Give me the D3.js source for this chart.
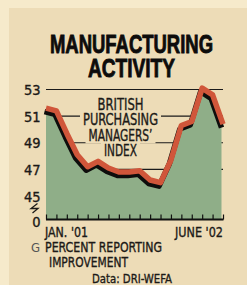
<!DOCTYPE html>
<html>
<head>
<meta charset="utf-8">
<script src="https://cdn.jsdelivr.net/npm/d3@7"></script>
<style>
  html, body { margin: 0; padding: 0; background: #f6eacb; }
  svg { display: block; }
  text { font-family: "Liberation Sans Narrow", "DejaVu Sans Condensed", "Liberation Sans", sans-serif; fill: #1c1a17; }
  .ink { stroke: #1c1a17; stroke-width: 0.35; }
</style>
</head>
<body>
<div id="chart"></div>
<script>
// monthly, Jan 2001 .. June 2002
var months = ["Jan01","Feb01","Mar01","Apr01","May01","Jun01","Jul01","Aug01","Sep01","Oct01","Nov01","Dec01",
              "Jan02","Feb02","Mar02","Apr02","May02","Jun02"];
var pmi = [51.6, 51.4, 49.7, 48.1, 47.2, 47.6, 47.1, 46.8, 46.8, 46.9, 46.2, 46.0,
           47.7, 50.3, 50.6, 53.1, 52.6, 50.4];
var yTicks = [45, 47, 49, 51, 53];
var gridVals = [47, 49, 51, 53];
var xLabels = [{i: 0, text: "JAN. '01"}, {i: 17, text: "JUNE '02"}];
var seriesLabel = ["BRITISH", "PURCHASING", "MANAGERS\u2019", "INDEX"];

var width = 247, height = 285;
var left = 46, right = 223, base = 219.5;
var panel = "#eddcb7";

var svg = d3.select("#chart").append("svg")
    .attr("width", width)
    .attr("height", height);

// panel
svg.append("rect").attr("x", 9).attr("y", 8).attr("width", width - 9).attr("height", height - 8)
    .attr("fill", panel);

var x = d3.scaleLinear().domain([0, months.length - 1]).range([left, right]);
var y = d3.scaleLinear().domain([45, 53]).range([196, 89.5]);

// title
var title = [{t: "MANUFACTURING", y: 53, w: 163}, {t: "ACTIVITY", y: 77, w: 87}];
svg.selectAll(".title").data(title).enter().append("text")
    .attr("class", "title")
    .attr("x", 131.5).attr("y", d => d.y)
    .attr("text-anchor", "middle")
    .attr("textLength", d => d.w).attr("lengthAdjust", "spacingAndGlyphs")
    .style("font-family", "'Liberation Sans', 'DejaVu Sans', sans-serif")
    .style("font-weight", "bold").style("font-size", "26px")
    .style("fill", "#0d0c0b").style("stroke", "#0d0c0b").style("stroke-width", 0.9)
    .text(d => d.t);

// grid lines
svg.selectAll(".grid").data(gridVals).enter().append("line")
    .attr("x1", left).attr("x2", right)
    .attr("y1", d => y(d)).attr("y2", d => y(d))
    .attr("stroke", "#1a1a1a").attr("stroke-width", 1.1);

// series label, with panel-coloured boxes hiding the grid lines behind it
var labW = [46, 75, 64, 33], labY = [109.5, 125, 140.5, 156];
var boxes = svg.append("g");
var labs = svg.selectAll(".lab").data(seriesLabel).enter().append("text")
    .attr("class", "lab ink")
    .attr("x", 120.5).attr("y", (d, i) => labY[i])
    .attr("text-anchor", "middle")
    .attr("textLength", (d, i) => labW[i]).attr("lengthAdjust", "spacingAndGlyphs")
    .style("font-size", "15.5px")
    .text(d => d);
labs.each(function(d, i) {
    boxes.append("rect")
        .attr("x", 120.5 - labW[i] / 2 - 3).attr("y", labY[i] - 13)
        .attr("width", labW[i] + 6).attr("height", 16)
        .attr("fill", panel);
});

// area + shadow + line
var dx = -1.5, dy = 3.5;
svg.append("clipPath").attr("id", "plotclip").append("rect")
    .attr("x", left).attr("y", 0).attr("width", right - left).attr("height", base);

var area = d3.area()
    .x((d, i) => x(i) + dx)
    .y0(base)
    .y1(d => y(d) + dy);

svg.append("path").datum(pmi)
    .attr("d", area)
    .attr("clip-path", "url(#plotclip)")
    .attr("fill", "#8fae88");

var shadow = d3.line().x((d, i) => x(i) + dx).y(d => y(d) + dy);
svg.append("path").datum(pmi)
    .attr("d", shadow)
    .attr("fill", "none").attr("stroke", "#0e0d0c").attr("stroke-width", 5.5)
    .attr("stroke-linejoin", "round");

var line = d3.line().x((d, i) => x(i)).y(d => y(d));
svg.append("path").datum(pmi)
    .attr("d", line)
    .attr("fill", "none").attr("stroke", "#d0563a").attr("stroke-width", 5.5)
    .attr("stroke-linejoin", "round");

// x axis
var xAxis = d3.axisTop(x).tickValues(d3.range(months.length)).tickSize(5).tickFormat("");
var gx = svg.append("g").attr("transform", "translate(0," + base + ")").call(xAxis);
gx.select(".domain").remove();
gx.selectAll(".tick line").attr("stroke", "#111").attr("stroke-width", 1.2);
svg.append("line").attr("x1", left).attr("x2", right + 0.5).attr("y1", base).attr("y2", base)
    .attr("stroke", "#111").attr("stroke-width", 2.2);

svg.selectAll(".xl").data(xLabels).enter().append("text")
    .attr("class", "ink")
    .attr("x", d => d.i == 0 ? x(d.i) - 1 : x(d.i))
    .attr("y", 237)
    .attr("text-anchor", d => d.i == 0 ? "start" : "end")
    .attr("textLength", d => d.i == 0 ? 43 : 48).attr("lengthAdjust", "spacingAndGlyphs")
    .style("font-size", "14.5px")
    .text(d => d.text);

// y labels
svg.selectAll(".yl").data(yTicks).enter().append("text")
    .attr("class", "ink")
    .attr("x", 40.5).attr("y", d => y(d) + 5.5)
    .attr("text-anchor", "end")
    .style("font-size", "14.5px")
    .text(d => d);
svg.append("text").attr("class", "ink").attr("x", 40.5).attr("y", 227).attr("text-anchor", "end")
    .style("font-size", "14.5px").text("0");
// axis break mark
svg.append("path").attr("d", "M37.5,203.5 L31,208.5 L38,208.5 L32.5,213")
    .attr("fill", "none").attr("stroke", "#1c1a17").attr("stroke-width", 1.3);

// footnotes
svg.append("text").attr("x", 40).attr("y", 252).attr("text-anchor", "end")
    .style("font-size", "13px").style("fill", "#555").text("G");
svg.append("text").attr("class", "ink").attr("x", 45).attr("y", 252)
    .attr("textLength", 117).attr("lengthAdjust", "spacingAndGlyphs")
    .style("font-size", "14.5px").text("PERCENT REPORTING");
svg.append("text").attr("class", "ink").attr("x", 49).attr("y", 267)
    .attr("textLength", 79).attr("lengthAdjust", "spacingAndGlyphs")
    .style("font-size", "14.5px").text("IMPROVEMENT");
svg.append("text").attr("class", "ink").attr("x", 92).attr("y", 283)
    .attr("textLength", 80).attr("lengthAdjust", "spacingAndGlyphs")
    .style("font-size", "13px").text("Data: DRI-WEFA");
</script>
</body>
</html>
